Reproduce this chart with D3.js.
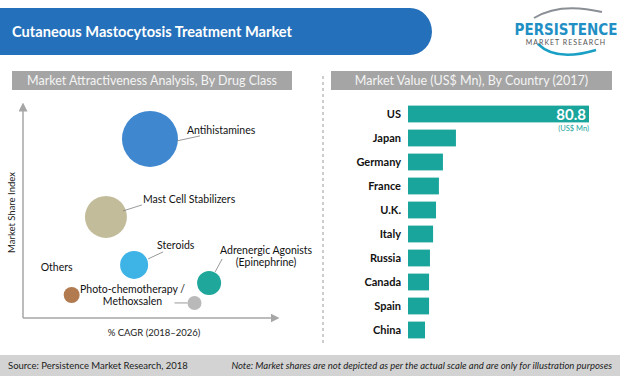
<!DOCTYPE html>
<html>
<head>
<meta charset="utf-8">
<script src="https://cdn.jsdelivr.net/npm/d3@7"></script>
<style>
  body { margin: 0; background: #fff; }
  svg { display: block; font-family: Lato, "Open Sans", sans-serif; }
</style>
</head>
<body>
<div id="chart"></div>
<script>
// drug class bubbles
const drugClasses = ["Antihistamines", "Mast Cell Stabilizers", "Steroids", "Adrenergic Agonists", "Others", "Photo-chemotherapy"];
const cagrIndex = [4.96, 3.24, 4.34, 7.27, 1.9, 6.7];
const shareIndex = [8.33, 4.7, 2.47, 1.63, 1.07, 0.7];
const bubbleSize = [80, 45, 20, 14.7, 6.5, 5];
const bubbleColors = ["#3f88cf", "#c3bc9a", "#3db3e6", "#1fa79c", "#b27a4f", "#b9b9b9"];

// country bars
const countries = ["US", "Japan", "Germany", "France", "U.K.", "Italy", "Russia", "Canada", "Spain", "China"];
const marketValue = [80.8, 21.4, 15.6, 13.8, 12.5, 11.2, 9.8, 9.4, 9.4, 7.6];

const W = 620, H = 376;
const svg = d3.select("#chart").append("svg")
    .attr("width", W)
    .attr("height", H);

const defs = svg.append("defs");
defs.append("marker")
    .attr("id", "arrow")
    .attr("viewBox", "0 0 10 10")
    .attr("refX", 5).attr("refY", 5)
    .attr("markerWidth", 9).attr("markerHeight", 9)
    .attr("markerUnits", "userSpaceOnUse")
    .attr("orient", "auto")
    .append("path")
    .attr("d", "M0,0 L10,5 L0,10 Z")
    .attr("fill", "#a6a6a6");

// header bar
svg.append("path")
    .attr("d", "M0,8 H410 A22,24 0 0 1 432,32 A22,24 0 0 1 410,55 H0 Z")
    .attr("fill", "#2470ba");
svg.append("text")
    .attr("x", 12).attr("y", 37)
    .attr("fill", "#fff")
    .attr("font-size", 16)
    .attr("font-weight", 700)
    .attr("textLength", 280)
    .attr("lengthAdjust", "spacingAndGlyphs")
    .text("Cutaneous Mastocytosis Treatment Market");

// logo
const logo = svg.append("g").attr("transform", "translate(520,0)");
logo.append("path")
    .attr("d", "M14,18 Q40,2 82,12")
    .attr("fill", "none").attr("stroke", "#8a8f96").attr("stroke-width", 2);
logo.append("path")
    .attr("d", "M18,44 Q36,62 76,50")
    .attr("fill", "none").attr("stroke", "#1aa0c4").attr("stroke-width", 2.5);
logo.append("text")
    .attr("x", 46).attr("y", 35)
    .attr("text-anchor", "middle")
    .attr("fill", "#1f8fc4")
    .attr("font-size", 15)
    .attr("font-weight", 700)
    .attr("font-family", "'Liberation Sans Narrow', 'DejaVu Sans Condensed', sans-serif")
    .text("PERSISTENCE");
logo.append("text")
    .attr("x", 46).attr("y", 45)
    .attr("text-anchor", "middle")
    .attr("fill", "#555")
    .attr("font-size", 7)
    .attr("letter-spacing", 1)
    .text("MARKET RESEARCH");

// panel headers
function panelHeader(x, w, label) {
    svg.append("rect")
        .attr("x", x).attr("y", 71)
        .attr("width", w).attr("height", 19)
        .attr("fill", "#a5a5a5");
    svg.append("text")
        .attr("x", x + w / 2).attr("y", 85)
        .attr("text-anchor", "middle")
        .attr("fill", "#f4f4f4")
        .attr("font-size", 12.5)
        .text(label);
}
panelHeader(12, 280, "Market Attractiveness Analysis, By Drug Class");
panelHeader(331, 281, "Market Value (US$ Mn), By Country (2017)");

// divider
svg.append("line")
    .attr("x1", 323).attr("x2", 323)
    .attr("y1", 76).attr("y2", 344)
    .attr("stroke", "#9a9a9a")
    .attr("stroke-dasharray", "3,3");

// ---- bubble chart ----
const x = d3.scaleLinear().domain([0, 10]).range([23, 279]);
const y = d3.scaleLinear().domain([0, 10]).range([318, 103]);
const r = d3.scaleSqrt().domain([0, 80]).range([0, 28]);

svg.append("line")
    .attr("x1", x(0)).attr("y1", y(0))
    .attr("x2", x(0)).attr("y2", y(10) + 4)
    .attr("stroke", "#a6a6a6").attr("stroke-width", 1.5)
    .attr("marker-end", "url(#arrow)");
svg.append("line")
    .attr("x1", x(0)).attr("y1", y(0))
    .attr("x2", x(10) - 4).attr("y2", y(0))
    .attr("stroke", "#a6a6a6").attr("stroke-width", 1.5)
    .attr("marker-end", "url(#arrow)");

svg.append("text")
    .attr("transform", `translate(15,${(y(0) + y(10)) / 2 + 2}) rotate(-90)`)
    .attr("text-anchor", "middle")
    .attr("font-size", 9.5)
    .attr("fill", "#222")
    .text("Market Share Index");
svg.append("text")
    .attr("x", (x(0) + x(10)) / 2 + 3).attr("y", 336)
    .attr("text-anchor", "middle")
    .attr("font-size", 9.5)
    .attr("fill", "#222")
    .text("% CAGR (2018–2026)");

const bubbles = drugClasses.map((d, i) => ({
    name: d, cx: cagrIndex[i], cy: shareIndex[i], size: bubbleSize[i], color: bubbleColors[i]
}));

svg.append("g").selectAll("circle")
    .data(bubbles)
    .join("circle")
    .attr("cx", d => x(d.cx))
    .attr("cy", d => y(d.cy))
    .attr("r", d => r(d.size))
    .attr("fill", d => d.color);

// labels with leader lines, offsets relative to bubble
const labelInfo = [
    { lines: ["Antihistamines"], dx: 37, dy: -5, anchor: "start", lead: [[27, 2], [50, -3]] },
    { lines: ["Mast Cell Stabilizers"], dx: 37, dy: -14, anchor: "start", lead: [[17, -6], [36, -12]] },
    { lines: ["Steroids"], dx: 23, dy: -16, anchor: "start", lead: [[14, -6], [29, -13]] },
    { lines: ["Adrenergic Agonists", "(Epinephrine)"], dx: 57, dy: -29, anchor: "middle", lead: [[6, -11], [13, -24]] },
    { lines: ["Others"], dx: -15, dy: -24, anchor: "middle", lead: null },
    { lines: ["Photo-chemotherapy /", "Methoxsalen"], dx: -62, dy: -10, anchor: "middle", lead: [[-20, 0], [-7, 0]] }
];

bubbles.forEach((b, i) => {
    const info = labelInfo[i];
    const bx = x(b.cx), by = y(b.cy);
    if (info.lead) {
        svg.append("line")
            .attr("x1", bx + info.lead[0][0]).attr("y1", by + info.lead[0][1])
            .attr("x2", bx + info.lead[1][0]).attr("y2", by + info.lead[1][1])
            .attr("stroke", "#7f7f7f").attr("stroke-width", 0.8);
    }
    const t = svg.append("text")
        .attr("text-anchor", info.anchor)
        .attr("font-size", 10.5)
        .attr("fill", "#111");
    info.lines.forEach((line, k) => {
        t.append("tspan")
            .attr("x", bx + info.dx)
            .attr("y", by + info.dy + k * 12)
            .text(line);
    });
});

// ---- bar chart ----
const bx = d3.scaleLinear().domain([0, 80.8]).range([408, 589]);
const by = d3.scaleBand().domain(countries).range([102, 342]).paddingInner(0.3).paddingOuter(0.15);

const bars = countries.map((c, i) => ({ country: c, value: marketValue[i] }));

svg.append("g").selectAll("rect")
    .data(bars)
    .join("rect")
    .attr("x", bx(0))
    .attr("y", d => by(d.country))
    .attr("width", d => bx(d.value) - bx(0))
    .attr("height", by.bandwidth())
    .attr("fill", "#1aa59c");

const yAxis = svg.append("g")
    .attr("transform", `translate(${bx(0)},0)`)
    .call(d3.axisLeft(by).tickSize(0).tickPadding(7));
yAxis.select(".domain").remove();
yAxis.selectAll("text")
    .attr("font-family", "Lato, 'Open Sans', sans-serif")
    .attr("font-size", 11)
    .attr("font-weight", 700)
    .attr("fill", "#111");

svg.append("text")
    .attr("x", bx(bars[0].value) - 3)
    .attr("y", by(bars[0].country) + by.bandwidth() / 2 + 5.5)
    .attr("text-anchor", "end")
    .attr("fill", "#fff")
    .attr("font-size", 15)
    .attr("font-weight", 700)
    .text(d3.format(".1f")(bars[0].value));
svg.append("text")
    .attr("x", bx(bars[0].value))
    .attr("y", by(bars[0].country) + by.bandwidth() + 9)
    .attr("text-anchor", "end")
    .attr("fill", "#1aa59c")
    .attr("font-size", 7.5)
    .text("(US$ Mn)");

// footer
svg.append("rect")
    .attr("x", 0).attr("y", 355)
    .attr("width", W).attr("height", 21)
    .attr("fill", "#d3d3d3");
svg.append("text")
    .attr("x", 8).attr("y", 369)
    .attr("font-size", 9.5)
    .attr("fill", "#222")
    .text("Source: Persistence Market Research, 2018");
svg.append("text")
    .attr("x", 612).attr("y", 369)
    .attr("text-anchor", "end")
    .attr("font-size", 9.5)
    .attr("font-style", "italic")
    .attr("fill", "#222")
    .text("Note: Market shares are not depicted as per the actual scale and are only for illustration purposes");
</script>
</body>
</html>
